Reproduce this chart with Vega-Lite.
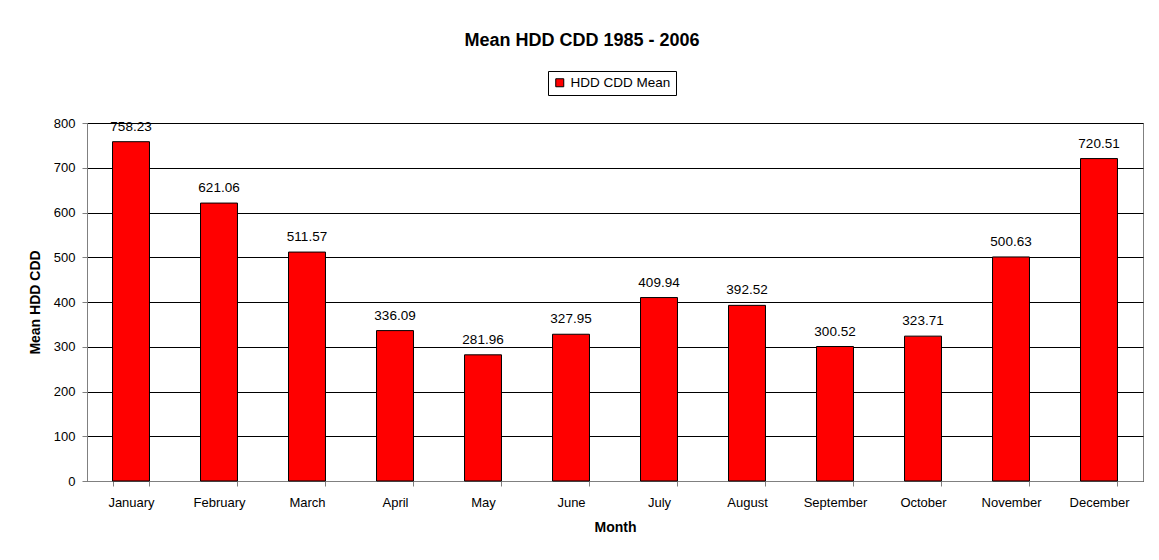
{
  "$schema": "https://vega.github.io/schema/vega-lite/v6.json",
  "width": 1056,
  "height": 358,
  "autosize": {"type": "none"},
  "padding": {"left": 87, "top": 123, "right": 16, "bottom": 79},
  "background": "white",
  "config": {
    "font": "Liberation Sans",
    "view": {"stroke": "#808080", "strokeWidth": 1}
  },
  "title": {
    "text": "Mean HDD CDD 1985 - 2006",
    "font": "Liberation Sans",
    "fontSize": 18,
    "fontWeight": "bold",
    "color": "black",
    "anchor": "middle",
    "offset": 21,
    "dx": -33
  },
  "data": {
    "values": [
      {"Month": "January", "Mean": 758.23, "Series": "HDD CDD Mean"},
      {"Month": "February", "Mean": 621.06, "Series": "HDD CDD Mean"},
      {"Month": "March", "Mean": 511.57, "Series": "HDD CDD Mean"},
      {"Month": "April", "Mean": 336.09, "Series": "HDD CDD Mean"},
      {"Month": "May", "Mean": 281.96, "Series": "HDD CDD Mean"},
      {"Month": "June", "Mean": 327.95, "Series": "HDD CDD Mean"},
      {"Month": "July", "Mean": 409.94, "Series": "HDD CDD Mean"},
      {"Month": "August", "Mean": 392.52, "Series": "HDD CDD Mean"},
      {"Month": "September", "Mean": 300.52, "Series": "HDD CDD Mean"},
      {"Month": "October", "Mean": 323.71, "Series": "HDD CDD Mean"},
      {"Month": "November", "Mean": 500.63, "Series": "HDD CDD Mean"},
      {"Month": "December", "Mean": 720.51, "Series": "HDD CDD Mean"}
    ]
  },
  "encoding": {
    "x": {
      "field": "Month",
      "type": "nominal",
      "sort": null,
      "scale": {"paddingInner": 0.58, "paddingOuter": 0.29},
      "axis": {
        "title": "Month",
        "titleFont": "Liberation Sans",
        "titleFontSize": 14,
        "titleFontWeight": "bold",
        "titleColor": "black",
        "titlePadding": 11,
        "labelAngle": 0,
        "labelFont": "Liberation Sans",
        "labelFontSize": 13,
        "labelColor": "black",
        "labelPadding": 10,
        "tickBand": "extent",
        "tickSize": 5,
        "tickColor": "#808080",
        "domainColor": "#808080",
        "grid": false
      }
    },
    "y": {
      "field": "Mean",
      "type": "quantitative",
      "scale": {"domain": [0, 800], "nice": false},
      "axis": {
        "title": "Mean HDD CDD",
        "titleFont": "Liberation Sans",
        "titleFontSize": 14,
        "titleFontWeight": "bold",
        "titleColor": "black",
        "titlePadding": 11,
        "values": [0, 100, 200, 300, 400, 500, 600, 700, 800],
        "labelFont": "Liberation Sans",
        "labelFontSize": 13,
        "labelColor": "black",
        "labelPadding": 7,
        "tickSize": 5,
        "tickColor": "#808080",
        "domainColor": "#808080",
        "grid": true,
        "gridColor": "black",
        "gridOpacity": 1
      }
    }
  },
  "layer": [
    {
      "mark": {"type": "bar", "color": "#FF0000", "stroke": "black", "strokeWidth": 1},
      "encoding": {
        "fill": {
          "field": "Series",
          "type": "nominal",
          "scale": {"range": ["#FF0000"]},
          "legend": {
            "title": null,
            "orient": "none",
            "legendX": 461,
            "legendY": -52,
            "direction": "horizontal",
            "symbolType": "square",
            "symbolSize": 64,
            "symbolStrokeColor": "black",
            "symbolStrokeWidth": 1,
            "labelFont": "Liberation Sans",
            "labelFontSize": 13.5,
            "labelColor": "black",
            "strokeColor": "black",
            "fillColor": "white",
            "padding": 5
          }
        }
      }
    },
    {
      "mark": {"type": "text", "baseline": "alphabetic", "dy": -11, "font": "Liberation Sans", "fontSize": 13.5, "color": "black"},
      "encoding": {
        "text": {"field": "Mean", "type": "quantitative", "format": ".2f"}
      }
    }
  ]
}
